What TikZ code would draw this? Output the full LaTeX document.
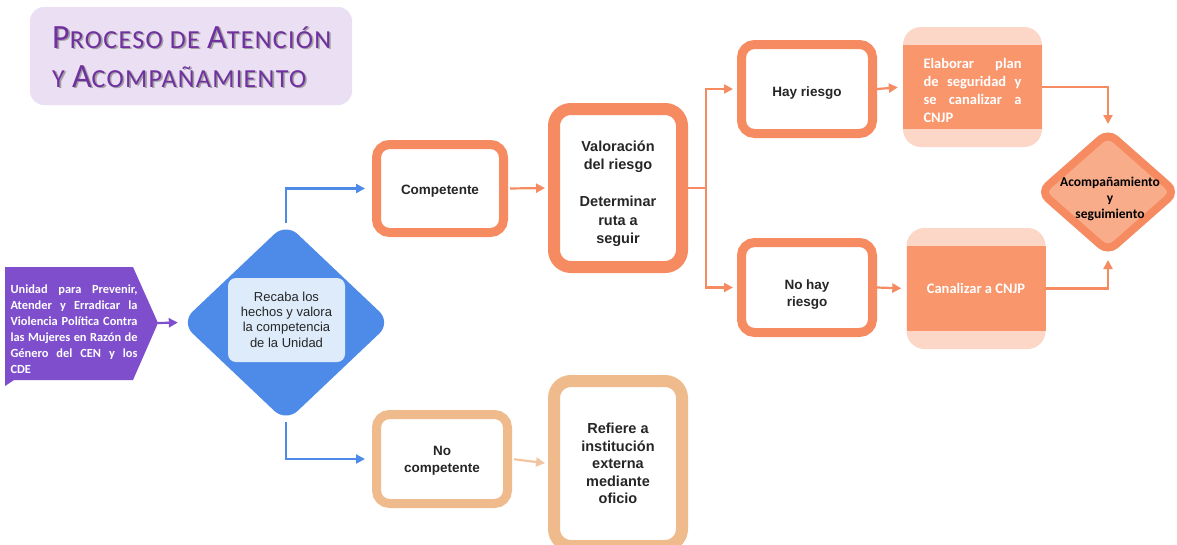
\documentclass[tikz,border=0pt]{standalone}
\usepackage{fontspec}
\setmainfont{Liberation Sans}
\newfontfamily\carl{Carlito}
\newfontfamily\carltitle[LetterSpace=5]{Carlito}
\usetikzlibrary{arrows.meta,shapes.geometric}
\definecolor{purp}{RGB}{126,78,205}
\definecolor{titlefill}{RGB}{234,223,243}
\definecolor{titletext}{RGB}{112,48,160}
\definecolor{shadowgray}{RGB}{160,160,160}
\definecolor{blued}{RGB}{78,139,232}
\definecolor{bluel}{RGB}{221,235,250}
\definecolor{orb}{RGB}{246,138,96}
\definecolor{orfill}{RGB}{249,150,108}
\definecolor{orpale}{RGB}{252,214,198}
\definecolor{diafill}{RGB}{249,172,138}
\definecolor{tanb}{RGB}{240,187,140}
\definecolor{tanl}{RGB}{241,197,162}
\definecolor{txtgray}{RGB}{38,38,38}
\newcommand{\scBig}[1]{{\fontsize{34}{34}\selectfont #1}}
\newcommand{\scSmall}[1]{{\fontsize{26}{26}\selectfont #1}}
\newcommand{\shadowed}[1]{\rlap{\color{shadowgray}\kern1.6pt\raisebox{-1.6pt}{#1}}#1}
\newcommand{\shiftdown}[2]{\raisebox{-#1}[\height][\depth]{#2}}
\begin{document}
\begin{tikzpicture}[x=1pt,y=-1pt,
  obox/.style={draw=orb,line width=9pt,rounded corners=13pt,fill=white,align=center,
    font=\bfseries\fontsize{13.5}{17}\selectfont,text=txtgray,inner sep=0pt},
  bigbox/.style={obox,line width=12pt,rounded corners=17pt,font=\bfseries\fontsize{14.5}{18.5}\selectfont},
  tanbox/.style={draw=tanb},
  palebg/.style={fill=orpale,rounded corners=18pt,minimum width=139pt,inner sep=0pt},
  solidbox/.style={fill=orfill,minimum width=139pt,minimum height=85pt,inner sep=0pt,
    text=white,font=\carl\bfseries\fontsize{14.5}{18}\selectfont},
  arr/.style={-{Triangle[length=9pt,width=9pt]},line width=2.2pt},
  titletxt/.style={inner sep=0pt,text=titletext,font=\carltitle},
  ptext/.style={text width=127pt,align=justify,inner sep=0pt,text=white,
    font=\carl\bfseries\fontsize{12.4}{16}\selectfont},
]
\useasboundingbox (0,0) rectangle (1177,544);
\clip (0,0) rectangle (1177,544);
\fill[white] (0,0) rectangle (1177,544);

% title
\node[fill=titlefill,rounded corners=14pt,minimum width=322pt,minimum height=98pt,inner sep=0pt] (titlebox) at (191,56) {};
\node[titletxt,anchor=base west] (t1) at (52,48) {\shadowed{\scBig{P}\scSmall{ROCESO DE }\scBig{A}\scSmall{TENCIÓN}}};
\node[titletxt,anchor=base west] (t2) at (52,87) {\shadowed{\scSmall{Y }\scBig{A}\scSmall{COMPAÑAMIENTO}}};

% purple source shape
\fill[purp] (5,267) -- (133,267) -- (158,323) -- (133,380) -- (14,380) -- (5,386) -- cycle;
\coordinate (ptip) at (158,323);
\node[ptext] (unidad) at (74,329) {Unidad para Prevenir,\linebreak Atender y Erradicar la\linebreak Violencia Política Contra\linebreak las Mujeres en Razón de\linebreak Género del CEN y los\linebreak CDE};

% blue decision
\node[diamond,fill=blued,rounded corners=16pt,minimum width=210pt,minimum height=199pt,inner sep=0pt] (bdia) at (286,322.5) {};
\node[fill=bluel,rounded corners=8pt,minimum width=117pt,minimum height=84pt,inner sep=0pt,align=center,
  text=txtgray,font=\fontsize{13}{15.3}\selectfont] (recaba) at (286.5,320) {\shiftdown{1pt}{\begin{tabular}{@{}c@{}}Recaba los\\hechos y valora\\la competencia\\de la Unidad\end{tabular}}};

% orange boxes
\node[obox,minimum width=127pt,minimum height=88pt] (comp) at (440,188.5) {\shiftdown{3pt}{Competente}};
\node[bigbox,minimum width=128pt,minimum height=158pt] (val) at (618,188) {\shiftdown{6pt}{\begin{tabular}{@{}c@{}}Valoración\\del riesgo\\[18.5pt]Determinar\\ruta a\\seguir\end{tabular}}};
\node[obox,minimum width=131pt,minimum height=89pt] (hay) at (807,89) {\shiftdown{4pt}{Hay riesgo}};
\node[obox,minimum width=131pt,minimum height=90pt] (nohay) at (807,287.5) {\shiftdown{7pt}{\begin{tabular}{@{}c@{}}No hay\\riesgo\end{tabular}}};

% tan boxes
\node[obox,tanbox,minimum width=131pt,minimum height=89pt] (nocomp) at (442,459) {\shiftdown{2pt}{\begin{tabular}{@{}c@{}}No\\competente\end{tabular}}};
\node[bigbox,tanbox,minimum width=128pt,minimum height=165pt,font=\bfseries\fontsize{14.5}{17.5}\selectfont] (ref) at (618,463.5) {Refiere a\\institución\\externa\\mediante\\oficio};

% solid orange boxes
\node[palebg,minimum height=120pt] (elabbg) at (972.5,87) {};
\node[solidbox,minimum height=84pt] (elab) at (972.5,87) {\shiftdown{3pt}{\begin{minipage}{98pt}\carl\bfseries\fontsize{14.5}{18}\selectfont\leavevmode Elaborar plan\linebreak de seguridad y\linebreak se canalizar a\linebreak CNJP\end{minipage}}};
\node[palebg,minimum height=121pt] (canalbg) at (976,288.5) {};
\node[solidbox,minimum height=85pt] (canal) at (976,288.5) {Canalizar a CNJP};

% final diamond
\node[diamond,draw=orb,line width=8pt,fill=diafill,rounded corners=10pt,minimum width=138pt,minimum height=122pt,inner sep=0pt] (acomp) at (1108,192) {};
\node[inner sep=0pt,align=center,font=\carl\bfseries\fontsize{13.5}{16}\selectfont,text=black] (acomptxt) at (1110,199) {Acompañamiento\\y\\seguimiento};

% connectors
\draw[arr,purp,shorten >=3pt] (ptip) -- (bdia.west);
\draw[arr,blued,shorten >=7pt] (bdia.north) |- (comp.west);
\draw[arr,blued,shorten >=7pt] (bdia.south) |- (nocomp.west);
\draw[arr,orb,shorten <=2pt,shorten >=3pt] (comp.east) -- (val.west);
\coordinate (br) at (706,188);
\draw[line width=2.2pt,orb] (val.east) -- (br);
\draw[arr,orb,shorten >=4pt] (br) |- (hay.west);
\draw[arr,orb,shorten >=4pt] (br) |- (nohay.west);
\draw[arr,orb,shorten >=5pt] (hay.east) -- (elab.west);
\draw[arr,orb,shorten >=5pt] (nohay.east) -- (canal.west);
\draw[arr,orb,shorten >=3pt] (elab.east) -| (acomp.north);
\draw[arr,orb,shorten >=3pt] (canal.east) -| (acomp.south);
\draw[arr,tanl,shorten <=2pt,shorten >=3pt] (nocomp.east) -- (ref.west);
\end{tikzpicture}
\end{document}
